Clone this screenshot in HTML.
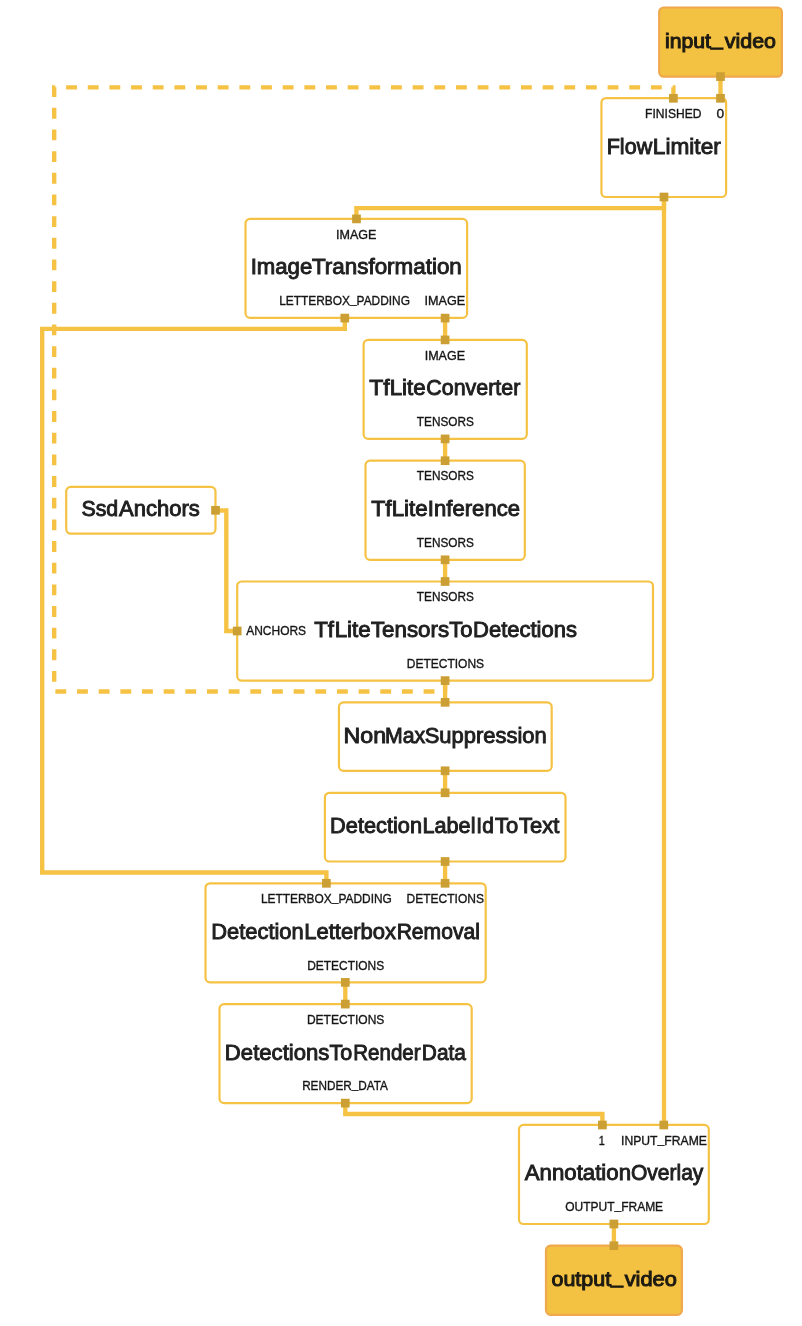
<!DOCTYPE html><html><head><meta charset="utf-8"><style>html,body{margin:0;padding:0;background:#fff;width:802px;height:1326px;overflow:hidden}svg{display:block;will-change:transform}text{font-family:"Liberation Sans",sans-serif}</style></head><body>
<svg width="802" height="1326" viewBox="0 0 802 1326">
<g fill="none" stroke="#F5C244" stroke-width="4.34" stroke-linejoin="miter" stroke-linecap="butt">
<path d="M720.5,76.6 V98.3"/>
<path d="M664.0,197.0 V208.1 H356.4 V218.9"/>
<path d="M664.0,197.0 V1125.0"/>
<path d="M344.8,318.1 V328.9 H42.2 V872.5 H326.4 V883.3"/>
<path d="M445.1,317.9 V339.9"/>
<path d="M445.1,438.9 V460.7"/>
<path d="M445.1,559.8 V581.5"/>
<path d="M215.5,510.5 H226.3 V631.0 H237.2"/>
<path d="M445.1,680.7 V702.35"/>
<path d="M445.1,770.8 V792.8"/>
<path d="M445.1,861.5 V883.3"/>
<path d="M345.3,982.4 V1004.1"/>
<path d="M345.3,1103.1 V1114.0 H602.4 V1125.0"/>
<path d="M613.9,1224.0 V1245.7"/>
<path d="M445.1,680.5 V691.5 H54.2 V87.3 H673.4 V98.3" stroke-dasharray="10.83 10.83"/>
</g>
<rect x="659.2" y="7.5" width="122.7" height="69.2" rx="4.6" fill="#F4C243" stroke="#F0A84C" stroke-width="2.2"/>
<rect x="601.45" y="98.05" width="124.65" height="98.95" rx="4.6" fill="#fff" stroke="#F5C244" stroke-width="2.2"/>
<rect x="245.5" y="218.9" width="221.6" height="99" rx="4.6" fill="#fff" stroke="#F5C244" stroke-width="2.2"/>
<rect x="363.6" y="339.9" width="163.2" height="99" rx="4.6" fill="#fff" stroke="#F5C244" stroke-width="2.2"/>
<rect x="365.5" y="460.7" width="159.3" height="99.1" rx="4.6" fill="#fff" stroke="#F5C244" stroke-width="2.2"/>
<rect x="66.2" y="486.9" width="149.3" height="46.8" rx="4.6" fill="#fff" stroke="#F5C244" stroke-width="2.2"/>
<rect x="237.2" y="581.5" width="415.8" height="99.2" rx="4.6" fill="#fff" stroke="#F5C244" stroke-width="2.2"/>
<rect x="338.95" y="702.35" width="212.75" height="68.45" rx="4.6" fill="#fff" stroke="#F5C244" stroke-width="2.2"/>
<rect x="324.9" y="792.8" width="240.6" height="68.7" rx="4.6" fill="#fff" stroke="#F5C244" stroke-width="2.2"/>
<rect x="205.5" y="883.3" width="280.2" height="99.1" rx="4.6" fill="#fff" stroke="#F5C244" stroke-width="2.2"/>
<rect x="219.5" y="1004.1" width="252.2" height="99" rx="4.6" fill="#fff" stroke="#F5C244" stroke-width="2.2"/>
<rect x="519" y="1124.95" width="189.8" height="99.05" rx="4.6" fill="#fff" stroke="#F5C244" stroke-width="2.2"/>
<rect x="546" y="1245.7" width="135.9" height="69.2" rx="4.6" fill="#F4C243" stroke="#F0A84C" stroke-width="2.2"/>
<rect x="716.15" y="72.25" width="8.7" height="8.7" fill="#CB9F33"/>
<rect x="716.15" y="93.95" width="8.7" height="8.7" fill="#CB9F33"/>
<rect x="669.05" y="93.95" width="8.7" height="8.7" fill="#CB9F33"/>
<rect x="659.65" y="192.65" width="8.7" height="8.7" fill="#CB9F33"/>
<rect x="352.15" y="214.55" width="8.7" height="8.7" fill="#CB9F33"/>
<rect x="340.45" y="313.75" width="8.7" height="8.7" fill="#CB9F33"/>
<rect x="440.75" y="313.75" width="8.7" height="8.7" fill="#CB9F33"/>
<rect x="440.75" y="335.55" width="8.7" height="8.7" fill="#CB9F33"/>
<rect x="440.75" y="434.55" width="8.7" height="8.7" fill="#CB9F33"/>
<rect x="440.75" y="456.35" width="8.7" height="8.7" fill="#CB9F33"/>
<rect x="440.75" y="555.45" width="8.7" height="8.7" fill="#CB9F33"/>
<rect x="440.75" y="577.15" width="8.7" height="8.7" fill="#CB9F33"/>
<rect x="211.15" y="505.95" width="8.7" height="8.7" fill="#CB9F33"/>
<rect x="232.85" y="626.65" width="8.7" height="8.7" fill="#CB9F33"/>
<rect x="440.75" y="676.25" width="8.7" height="8.7" fill="#CB9F33"/>
<rect x="440.75" y="698" width="8.7" height="8.7" fill="#CB9F33"/>
<rect x="440.75" y="766.45" width="8.7" height="8.7" fill="#CB9F33"/>
<rect x="440.75" y="788.45" width="8.7" height="8.7" fill="#CB9F33"/>
<rect x="440.75" y="857.15" width="8.7" height="8.7" fill="#CB9F33"/>
<rect x="440.75" y="878.95" width="8.7" height="8.7" fill="#CB9F33"/>
<rect x="322.05" y="878.95" width="8.7" height="8.7" fill="#CB9F33"/>
<rect x="340.95" y="978.05" width="8.7" height="8.7" fill="#CB9F33"/>
<rect x="340.95" y="999.75" width="8.7" height="8.7" fill="#CB9F33"/>
<rect x="340.95" y="1098.75" width="8.7" height="8.7" fill="#CB9F33"/>
<rect x="598.05" y="1120.65" width="8.7" height="8.7" fill="#CB9F33"/>
<rect x="659.45" y="1120.65" width="8.7" height="8.7" fill="#CB9F33"/>
<rect x="609.55" y="1219.65" width="8.7" height="8.7" fill="#CB9F33"/>
<rect x="609.55" y="1241.35" width="8.7" height="8.7" fill="#CB9F33"/>
<text x="665.03" y="47.5" font-size="19.8" fill="#1c1a12" stroke="#1c1a12" stroke-width="1" textLength="57.76" lengthAdjust="spacingAndGlyphs">input<tspan dy="-3">_</tspan></text>
<text x="724.88" y="47.5" font-size="19.8" fill="#1c1a12" stroke="#1c1a12" stroke-width="1" textLength="51.12" lengthAdjust="spacingAndGlyphs">video</text>
<text x="606.72" y="153.85" font-size="21.35" fill="#202020" stroke="#202020" stroke-width="0.9" textLength="45.48" lengthAdjust="spacingAndGlyphs">Flow</text>
<text x="652.86" y="153.85" font-size="21.35" fill="#202020" stroke="#202020" stroke-width="0.9" textLength="67.9" lengthAdjust="spacingAndGlyphs">Limiter</text>
<text x="250.67" y="274" font-size="21.35" fill="#202020" stroke="#202020" stroke-width="0.9" textLength="61.56" lengthAdjust="spacingAndGlyphs">Image</text>
<text x="311.96" y="274" font-size="21.35" fill="#202020" stroke="#202020" stroke-width="0.9" textLength="149.87" lengthAdjust="spacingAndGlyphs">Transformation</text>
<text x="369.17" y="394.7" font-size="21.35" fill="#202020" stroke="#202020" stroke-width="0.9" textLength="20.41" lengthAdjust="spacingAndGlyphs">Tf</text>
<text x="389.66" y="394.7" font-size="21.35" fill="#202020" stroke="#202020" stroke-width="0.9" textLength="35.95" lengthAdjust="spacingAndGlyphs">Lite</text>
<text x="426.33" y="394.7" font-size="21.35" fill="#202020" stroke="#202020" stroke-width="0.9" textLength="93.96" lengthAdjust="spacingAndGlyphs">Converter</text>
<text x="371.17" y="515.9" font-size="21.35" fill="#202020" stroke="#202020" stroke-width="0.9" textLength="20.41" lengthAdjust="spacingAndGlyphs">Tf</text>
<text x="391.66" y="515.9" font-size="21.35" fill="#202020" stroke="#202020" stroke-width="0.9" textLength="35.95" lengthAdjust="spacingAndGlyphs">Lite</text>
<text x="427.86" y="515.9" font-size="21.35" fill="#202020" stroke="#202020" stroke-width="0.9" textLength="92.16" lengthAdjust="spacingAndGlyphs">Inference</text>
<text x="81.43" y="515.8" font-size="21.35" fill="#202020" stroke="#202020" stroke-width="0.9" textLength="36.82" lengthAdjust="spacingAndGlyphs">Ssd</text>
<text x="119.01" y="515.8" font-size="21.35" fill="#202020" stroke="#202020" stroke-width="0.9" textLength="80.77" lengthAdjust="spacingAndGlyphs">Anchors</text>
<text x="314.16" y="636.7" font-size="21.35" fill="#202020" stroke="#202020" stroke-width="0.9" textLength="19.75" lengthAdjust="spacingAndGlyphs">Tf</text>
<text x="334.66" y="636.7" font-size="21.35" fill="#202020" stroke="#202020" stroke-width="0.9" textLength="35.95" lengthAdjust="spacingAndGlyphs">Lite</text>
<text x="370.95" y="636.7" font-size="21.35" fill="#202020" stroke="#202020" stroke-width="0.9" textLength="78.18" lengthAdjust="spacingAndGlyphs">Tensors</text>
<text x="449.15" y="636.7" font-size="21.35" fill="#202020" stroke="#202020" stroke-width="0.9" textLength="23.24" lengthAdjust="spacingAndGlyphs">To</text>
<text x="473.09" y="636.7" font-size="21.35" fill="#202020" stroke="#202020" stroke-width="0.9" textLength="103.87" lengthAdjust="spacingAndGlyphs">Detections</text>
<text x="343.58" y="743" font-size="21.35" fill="#202020" stroke="#202020" stroke-width="0.9" textLength="42.57" lengthAdjust="spacingAndGlyphs">Non</text>
<text x="385.04" y="743" font-size="21.35" fill="#202020" stroke="#202020" stroke-width="0.9" textLength="40.21" lengthAdjust="spacingAndGlyphs">Max</text>
<text x="424.74" y="743" font-size="21.35" fill="#202020" stroke="#202020" stroke-width="0.9" textLength="121.98" lengthAdjust="spacingAndGlyphs">Suppression</text>
<text x="330.1" y="832.8" font-size="21.35" fill="#202020" stroke="#202020" stroke-width="0.9" textLength="91.92" lengthAdjust="spacingAndGlyphs">Detection</text>
<text x="422.54" y="832.8" font-size="21.35" fill="#202020" stroke="#202020" stroke-width="0.9" textLength="52.92" lengthAdjust="spacingAndGlyphs">Label</text>
<text x="476.36" y="832.8" font-size="21.35" fill="#202020" stroke="#202020" stroke-width="0.9" textLength="17.42" lengthAdjust="spacingAndGlyphs">Id</text>
<text x="495.05" y="832.8" font-size="21.35" fill="#202020" stroke="#202020" stroke-width="0.9" textLength="23.24" lengthAdjust="spacingAndGlyphs">To</text>
<text x="518.95" y="832.8" font-size="21.35" fill="#202020" stroke="#202020" stroke-width="0.9" textLength="40.33" lengthAdjust="spacingAndGlyphs">Text</text>
<text x="211.2" y="938.9" font-size="21.35" fill="#202020" stroke="#202020" stroke-width="0.9" textLength="92.55" lengthAdjust="spacingAndGlyphs">Detection</text>
<text x="304.18" y="938.9" font-size="21.35" fill="#202020" stroke="#202020" stroke-width="0.9" textLength="91.86" lengthAdjust="spacingAndGlyphs">Letterbox</text>
<text x="396.64" y="938.9" font-size="21.35" fill="#202020" stroke="#202020" stroke-width="0.9" textLength="83.31" lengthAdjust="spacingAndGlyphs">Removal</text>
<text x="224.86" y="1060" font-size="21.35" fill="#202020" stroke="#202020" stroke-width="0.9" textLength="104.48" lengthAdjust="spacingAndGlyphs">Detections</text>
<text x="329.56" y="1060" font-size="21.35" fill="#202020" stroke="#202020" stroke-width="0.9" textLength="22.75" lengthAdjust="spacingAndGlyphs">To</text>
<text x="353.25" y="1060" font-size="21.35" fill="#202020" stroke="#202020" stroke-width="0.9" textLength="67.35" lengthAdjust="spacingAndGlyphs">Render</text>
<text x="421.85" y="1060" font-size="21.35" fill="#202020" stroke="#202020" stroke-width="0.9" textLength="44.07" lengthAdjust="spacingAndGlyphs">Data</text>
<text x="524.79" y="1179.7" font-size="21.35" fill="#202020" stroke="#202020" stroke-width="0.9" textLength="106.21" lengthAdjust="spacingAndGlyphs">Annotation</text>
<text x="631" y="1179.7" font-size="21.35" fill="#202020" stroke="#202020" stroke-width="0.9" textLength="72.31" lengthAdjust="spacingAndGlyphs">Overlay</text>
<text x="551.55" y="1285.6" font-size="19.8" fill="#1c1a12" stroke="#1c1a12" stroke-width="1" textLength="71.47" lengthAdjust="spacingAndGlyphs">output<tspan dy="-3">_</tspan></text>
<text x="624.71" y="1285.6" font-size="19.8" fill="#1c1a12" stroke="#1c1a12" stroke-width="1" textLength="52.14" lengthAdjust="spacingAndGlyphs">video</text>
<text x="645.12" y="117.62" font-size="13" fill="#151515" stroke="#151515" stroke-width="0.35" textLength="56.27" lengthAdjust="spacingAndGlyphs">FINISHED</text>
<text x="716.54" y="117.62" font-size="13" fill="#151515" stroke="#151515" stroke-width="0.35" textLength="7.64" lengthAdjust="spacingAndGlyphs">0</text>
<text x="336" y="239.12" font-size="13" fill="#151515" stroke="#151515" stroke-width="0.35" textLength="40.44" lengthAdjust="spacingAndGlyphs">IMAGE</text>
<text x="279.22" y="304.62" font-size="13" fill="#151515" stroke="#151515" stroke-width="0.35" textLength="130.74" lengthAdjust="spacingAndGlyphs">LETTERBOX<tspan dy="-1.9">_</tspan><tspan dy="1.9">PADDING</tspan></text>
<text x="424.4" y="304.62" font-size="13" fill="#151515" stroke="#151515" stroke-width="0.35" textLength="40.78" lengthAdjust="spacingAndGlyphs">IMAGE</text>
<text x="424.7" y="360.02" font-size="13" fill="#151515" stroke="#151515" stroke-width="0.35" textLength="40.44" lengthAdjust="spacingAndGlyphs">IMAGE</text>
<text x="416.86" y="425.72" font-size="13" fill="#151515" stroke="#151515" stroke-width="0.35" textLength="56.99" lengthAdjust="spacingAndGlyphs">TENSORS</text>
<text x="416.86" y="479.82" font-size="13" fill="#151515" stroke="#151515" stroke-width="0.35" textLength="56.99" lengthAdjust="spacingAndGlyphs">TENSORS</text>
<text x="416.86" y="546.53" font-size="13" fill="#151515" stroke="#151515" stroke-width="0.35" textLength="56.99" lengthAdjust="spacingAndGlyphs">TENSORS</text>
<text x="416.86" y="600.62" font-size="13" fill="#151515" stroke="#151515" stroke-width="0.35" textLength="56.99" lengthAdjust="spacingAndGlyphs">TENSORS</text>
<text x="246.22" y="635.12" font-size="13" fill="#151515" stroke="#151515" stroke-width="0.35" textLength="59.85" lengthAdjust="spacingAndGlyphs">ANCHORS</text>
<text x="406.72" y="667.62" font-size="13" fill="#151515" stroke="#151515" stroke-width="0.35" textLength="77.35" lengthAdjust="spacingAndGlyphs">DETECTIONS</text>
<text x="260.92" y="902.83" font-size="13" fill="#151515" stroke="#151515" stroke-width="0.35" textLength="130.94" lengthAdjust="spacingAndGlyphs">LETTERBOX<tspan dy="-1.9">_</tspan><tspan dy="1.9">PADDING</tspan></text>
<text x="406.62" y="902.83" font-size="13" fill="#151515" stroke="#151515" stroke-width="0.35" textLength="77.35" lengthAdjust="spacingAndGlyphs">DETECTIONS</text>
<text x="307.23" y="969.53" font-size="13" fill="#151515" stroke="#151515" stroke-width="0.35" textLength="76.93" lengthAdjust="spacingAndGlyphs">DETECTIONS</text>
<text x="306.92" y="1023.83" font-size="13" fill="#151515" stroke="#151515" stroke-width="0.35" textLength="77.43" lengthAdjust="spacingAndGlyphs">DETECTIONS</text>
<text x="302.14" y="1090.33" font-size="13" fill="#151515" stroke="#151515" stroke-width="0.35" textLength="85.78" lengthAdjust="spacingAndGlyphs">RENDER<tspan dy="-1.9">_</tspan><tspan dy="1.9">DATA</tspan></text>
<text x="598.84" y="1144.83" font-size="13" fill="#151515" stroke="#151515" stroke-width="0.35" textLength="6.03" lengthAdjust="spacingAndGlyphs">1</text>
<text x="621.06" y="1144.83" font-size="13" fill="#151515" stroke="#151515" stroke-width="0.35" textLength="85.84" lengthAdjust="spacingAndGlyphs">INPUT<tspan dy="-1.9">_</tspan><tspan dy="1.9">FRAME</tspan></text>
<text x="565.25" y="1211.03" font-size="13" fill="#151515" stroke="#151515" stroke-width="0.35" textLength="97.87" lengthAdjust="spacingAndGlyphs">OUTPUT<tspan dy="-1.9">_</tspan><tspan dy="1.9">FRAME</tspan></text>
</svg></body></html>
